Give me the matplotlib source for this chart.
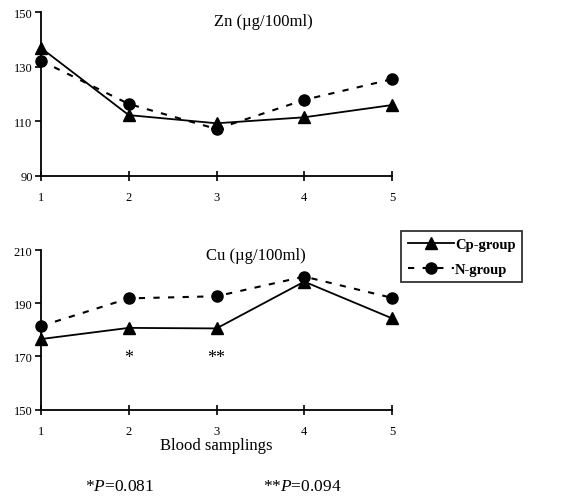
import matplotlib
matplotlib.use("Agg")
import matplotlib.pyplot as plt
from matplotlib.lines import Line2D

plt.rcParams['font.family'] = ['Liberation Serif', 'DejaVu Serif']
plt.rcParams['mathtext.fontset'] = 'custom'
plt.rcParams['mathtext.rm'] = 'Liberation Serif'
plt.rcParams['mathtext.it'] = 'Liberation Serif:italic'

samplings = [1, 2, 3, 4, 5]
zn_cp = [136.9, 112.2, 109.2, 111.4, 115.9]
zn_n = [132.2, 116.3, 107.1, 117.8, 125.4]
cu_cp = [176.5, 180.7, 180.5, 198.1, 184.3]
cu_n = [181.4, 191.8, 192.6, 200.0, 192.0]
zn_yticks = [90, 110, 130, 150]
cu_yticks = [150, 170, 190, 210]
zn_title = "Zn (\u00b5g/100ml)"
cu_title = "Cu (\u00b5g/100ml)"
legend_labels = ["Cp-group", "N-group"]
star_positions = [2, 3]
star_texts = ["*", "**"]
footnotes = ["*$\\mathit{P}$=0.081", "**$\\mathit{P}$=0.094"]

W, H = 577, 502
fig = plt.figure(figsize=(W / 100, H / 100), dpi=100)

def fx(px):
    return px / W

def fy(py):
    return 1 - py / H

ax1 = fig.add_axes([fx(41), fy(176.5), fx(392) - fx(41), fy(13.3) - fy(176.5)])
ax2 = fig.add_axes([fx(41), fy(410.5), fx(392) - fx(41), fy(251) - fy(410.5)])

def style(ax, yticks):
    ax.set_xlim(1, 5)
    ax.set_ylim(yticks[0], yticks[-1])
    ax.set_xticks(samplings)
    ax.set_yticks(yticks)
    for s in ['top', 'right']:
        ax.spines[s].set_visible(False)
    for s in ['left', 'bottom']:
        ax.spines[s].set_linewidth(1.3)
    ax.tick_params(axis='y', direction='out', length=4, width=1.2, labelsize=9, pad=2)
    ax.tick_params(axis='x', direction='inout', length=7, width=1.2, labelsize=9, pad=8)

for ax, cp, n, yt, title, tx, ty in [(ax1, zn_cp, zn_n, zn_yticks, zn_title, 0.633, 0.947),
                                      (ax2, cu_cp, cu_n, cu_yticks, cu_title, 0.613, 0.969)]:
    ax.plot(samplings, cp, color='black', linestyle='-', linewidth=1.3,
            marker='^', markersize=8, clip_on=False, zorder=3)
    ax.plot(samplings, n, color='black', linestyle=(0, (3, 4)), linewidth=1.5,
            marker='o', markersize=8, clip_on=False, zorder=3)
    style(ax, yt)
    ax.text(tx, ty, title, transform=ax.transAxes,
            ha='center', va='center', fontsize=12)

for xp, t in zip(star_positions, star_texts):
    ax2.text(xp, 169.5, t, ha='center', va='center', fontsize=13)

ax2.set_xlabel("Blood samplings", fontsize=12, labelpad=0)

handles = [Line2D([0], [0], color='black', linestyle='-', linewidth=1.3, marker='^', markersize=8),
           Line2D([0], [0], color='black', linestyle=(0, (3, 4)), linewidth=1.5, marker='o', markersize=8)]
leg = fig.legend(handles, legend_labels, loc='upper left',
                 bbox_to_anchor=(fx(401), fy(232)), frameon=True, fancybox=False,
                 edgecolor='black', prop={'weight': 'bold', 'size': 10.5},
                 handlelength=3.2, handletextpad=0.05, borderpad=0.45, labelspacing=0.8,
                 borderaxespad=0)
leg.get_frame().set_linewidth(1.3)

fig.text(fx(85), fy(487), footnotes[0], ha='left', va='center', fontsize=12.5)
fig.text(fx(263), fy(487), footnotes[1], ha='left', va='center', fontsize=12.5)

fig.savefig("out.png", dpi=100)
